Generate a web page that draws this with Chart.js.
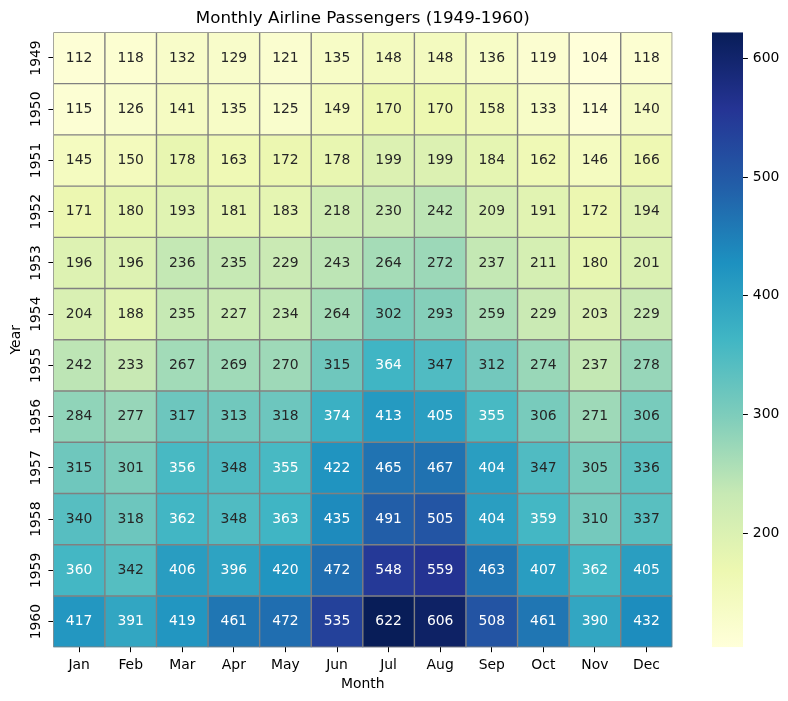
<!DOCTYPE html>
<html>
<head>
<meta charset="utf-8">
<script src="https://cdn.jsdelivr.net/npm/chart.js@4/dist/chart.umd.min.js"></script>
<style>
  body { margin: 0; background: #fff; }
  #wrap { position: relative; width: 788px; height: 701px; }
  #wrap canvas { position: absolute; left: 0; top: 0; }
</style>
</head>
<body>
<div id="wrap">
  <canvas id="heat" width="788" height="701"></canvas>
  <canvas id="bar" width="788" height="701"></canvas>
</div>
<script>
const months = ['Jan', 'Feb', 'Mar', 'Apr', 'May', 'Jun', 'Jul', 'Aug', 'Sep', 'Oct', 'Nov', 'Dec'];
const years = ['1949', '1950', '1951', '1952', '1953', '1954', '1955', '1956', '1957', '1958', '1959', '1960'];

const p1949 = [112, 118, 132, 129, 121, 135, 148, 148, 136, 119, 104, 118];
const p1950 = [115, 126, 141, 135, 125, 149, 170, 170, 158, 133, 114, 140];
const p1951 = [145, 150, 178, 163, 172, 178, 199, 199, 184, 162, 146, 166];
const p1952 = [171, 180, 193, 181, 183, 218, 230, 242, 209, 191, 172, 194];
const p1953 = [196, 196, 236, 235, 229, 243, 264, 272, 237, 211, 180, 201];
const p1954 = [204, 188, 235, 227, 234, 264, 302, 293, 259, 229, 203, 229];
const p1955 = [242, 233, 267, 269, 270, 315, 364, 347, 312, 274, 237, 278];
const p1956 = [284, 277, 317, 313, 318, 374, 413, 405, 355, 306, 271, 306];
const p1957 = [315, 301, 356, 348, 355, 422, 465, 467, 404, 347, 305, 336];
const p1958 = [340, 318, 362, 348, 363, 435, 491, 505, 404, 359, 310, 337];
const p1959 = [360, 342, 406, 396, 420, 472, 548, 559, 463, 407, 362, 405];
const p1960 = [417, 391, 419, 461, 472, 535, 622, 606, 508, 461, 390, 432];
const rows = [p1949, p1950, p1951, p1952, p1953, p1954, p1955, p1956, p1957, p1958, p1959, p1960];

const cbTicks = [200, 300, 400, 500, 600];

// matplotlib YlGnBu
const ylgnbu = ['#ffffd9', '#edf8b1', '#c7e9b4', '#7fcdbb', '#41b6c4', '#1d91c0', '#225ea8', '#253494', '#081d58'];

const all = rows.flat();
const vmin = Math.min(...all);
const vmax = Math.max(...all);

const FS = 13.9;
Chart.defaults.font.family = "'DejaVu Sans', sans-serif";
Chart.defaults.font.size = FS;
Chart.defaults.color = '#000';

function hexRgb(h) {
  return [1, 3, 5].map(i => parseInt(h.slice(i, i + 2), 16));
}
const stops = ylgnbu.map(hexRgb);

function cmap(v) {
  let t = (v - vmin) / (vmax - vmin);
  let idx = Math.min(255, Math.max(0, Math.floor(t * 256)));
  t = idx / 255;
  const pos = t * (stops.length - 1);
  const i = Math.min(stops.length - 2, Math.floor(pos));
  const f = pos - i;
  return stops[i].map((c, k) => c + (stops[i + 1][k] - c) * f);
}

function rgbStr(c) {
  return `rgb(${c.map(Math.round).join(',')})`;
}

function textColor(c) {
  const lin = c.map(x => {
    x = x / 255;
    return x <= 0.03928 ? x / 12.92 : Math.pow((x + 0.055) / 1.055, 2.4);
  });
  const lum = 0.2126 * lin[0] + 0.7152 * lin[1] + 0.0722 * lin[2];
  return lum > 0.408 ? '#262626' : '#ffffff';
}

// cell separators + value labels
const cellLabels = {
  id: 'cellLabels',
  afterDatasetsDraw(chart) {
    const ctx = chart.ctx;
    const xs = chart.scales.x;
    const ys = chart.scales.y;
    const area = chart.chartArea;
    ctx.save();
    ctx.beginPath();
    ctx.rect(area.left, area.top, area.right - area.left, area.bottom - area.top);
    ctx.clip();
    ctx.strokeStyle = '#808080';
    ctx.lineWidth = 1.4;
    ctx.beginPath();
    for (let j = 0; j <= months.length; j++) {
      const px = xs.getPixelForDecimal(j / months.length);
      ctx.moveTo(px, area.top);
      ctx.lineTo(px, area.bottom);
    }
    for (let i = 0; i <= years.length; i++) {
      const py = ys.getPixelForValue(i);
      ctx.moveTo(area.left, py);
      ctx.lineTo(area.right, py);
    }
    ctx.stroke();
    ctx.restore();

    ctx.save();
    ctx.font = `${FS}px 'DejaVu Sans'`;
    ctx.textAlign = 'center';
    ctx.textBaseline = 'middle';
    rows.forEach((row, i) => {
      const meta = chart.getDatasetMeta(i);
      meta.data.forEach((bar, j) => {
        const { x, y, base } = bar.getProps(['x', 'y', 'base'], true);
        ctx.fillStyle = textColor(cmap(row[j]));
        ctx.fillText(String(row[j]), x, (y + base) / 2);
      });
    });
    ctx.restore();
  }
};

// y tick labels are vertical in the reference
const yearLabels = {
  id: 'yearLabels',
  afterDraw(chart) {
    const ctx = chart.ctx;
    const ys = chart.scales.y;
    ctx.save();
    ctx.font = `${FS}px 'DejaVu Sans'`;
    ctx.fillStyle = '#000';
    ctx.textAlign = 'center';
    ctx.textBaseline = 'middle';
    years.forEach((yr, i) => {
      ctx.save();
      ctx.translate(36, ys.getPixelForValue(i + 0.5));
      ctx.rotate(-Math.PI / 2);
      ctx.fillText(yr, 0, 0);
      ctx.restore();
    });
    ctx.restore();
  }
};

const datasets = rows.map((row, i) => ({
  label: years[i],
  data: row.map(() => [i, i + 1]),
  backgroundColor: row.map(v => rgbStr(cmap(v))),
  borderWidth: 0,
  inflateAmount: 0.5,
  barPercentage: 1,
  categoryPercentage: 1,
  grouped: false
}));

new Chart(document.getElementById('heat'), {
  type: 'bar',
  data: { labels: months, datasets },
  options: {
    responsive: false,
    animation: false,
    layout: { padding: { left: 0, top: 0, right: 115.7, bottom: 0 } },
    plugins: {
      legend: { display: false },
      tooltip: { enabled: false },
      title: {
        display: true,
        text: 'Monthly Airline Passengers (1949-1960)',
        fullSize: false,
        color: '#000',
        font: { size: 16.7, weight: 'normal', lineHeight: 1.2 },
        padding: { top: 8.5, bottom: 3.8 }
      }
    },
    scales: {
      x: {
        type: 'category',
        offset: true,
        grid: { offset: false, drawOnChartArea: false, tickLength: 4.9, color: '#000', lineWidth: 1 },
        border: { display: false },
        ticks: { padding: 4.9, autoSkip: false, maxRotation: 0 },
        title: { display: true, text: 'Month', padding: { top: 0, bottom: 8.7 } },
        afterFit(s) { s.height = 53.7; }
      },
      y: {
        type: 'linear',
        min: 0,
        max: years.length,
        reverse: true,
        afterBuildTicks(s) { s.ticks = years.map((_, i) => ({ value: i + 0.5 })); },
        grid: { drawOnChartArea: false, tickLength: 4.9, color: '#000', lineWidth: 1 },
        border: { display: false },
        ticks: { display: false },
        title: { display: true, text: 'Year', padding: { top: 7.7, bottom: 0 } },
        afterFit(s) { s.width = 53.3; }
      }
    }
  },
  plugins: [cellLabels, yearLabels]
});

new Chart(document.getElementById('bar'), {
  type: 'bar',
  data: {
    labels: ['cb'],
    datasets: [{
      data: [[vmin, vmax]],
      backgroundColor(c) {
        const chart = c.chart;
        if (!chart.chartArea) return null;
        const ys = chart.scales.y;
        const g = chart.ctx.createLinearGradient(0, ys.getPixelForValue(vmin), 0, ys.getPixelForValue(vmax));
        ylgnbu.forEach((col, i) => g.addColorStop(i / (ylgnbu.length - 1), col));
        return g;
      },
      borderWidth: 0,
      inflateAmount: 0,
      barPercentage: 1,
      categoryPercentage: 1
    }]
  },
  options: {
    responsive: false,
    animation: false,
    layout: { padding: { left: 712, top: 32.3, right: 0, bottom: 53.7 } },
    plugins: { legend: { display: false }, tooltip: { enabled: false } },
    scales: {
      x: { display: false, offset: true },
      y: {
        position: 'right',
        min: vmin,
        max: vmax,
        afterBuildTicks(s) { s.ticks = cbTicks.map(v => ({ value: v })); },
        grid: { drawOnChartArea: false, tickLength: 4.9, color: '#000', lineWidth: 1 },
        border: { display: false },
        ticks: { padding: 4.9, callback: v => String(v) },
        afterFit(s) { s.width = 45; }
      }
    }
  }
});
</script>
</body>
</html>
